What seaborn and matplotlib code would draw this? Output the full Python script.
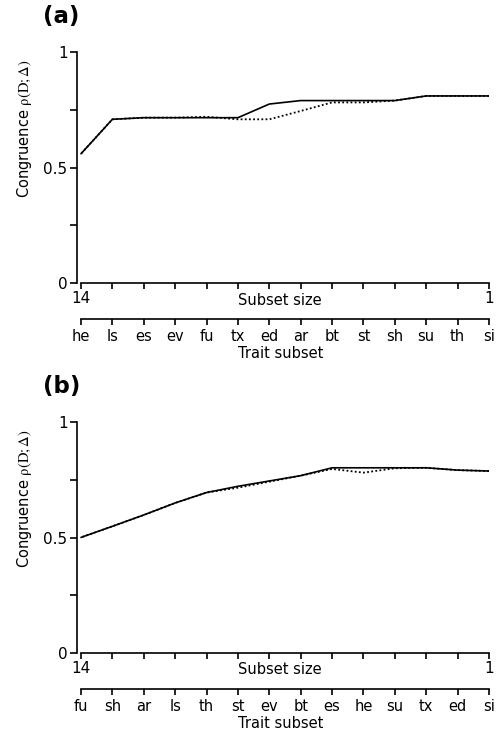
import pandas as pd
import seaborn as sns
import matplotlib.pyplot as plt

# subset size runs from 14 traits down to 1
subset_size = list(range(14, 0, -1))

# panel (a)
traits_a = ["he", "ls", "es", "ev", "fu", "tx", "ed", "ar", "bt", "st", "sh", "su", "th", "si"]
solid_a = [0.56, 0.709, 0.716, 0.716, 0.716, 0.716, 0.775, 0.79, 0.79, 0.79, 0.79, 0.81, 0.81, 0.81]
dotted_a = [0.56, 0.709, 0.716, 0.716, 0.72, 0.709, 0.709, 0.745, 0.782, 0.782, 0.79, 0.81, 0.81, 0.81]

# panel (b)
traits_b = ["fu", "sh", "ar", "ls", "th", "st", "ev", "bt", "es", "he", "su", "tx", "ed", "si"]
solid_b = [0.501, 0.549, 0.598, 0.65, 0.695, 0.722, 0.745, 0.768, 0.802, 0.802, 0.802, 0.802, 0.792, 0.788]
dotted_b = [0.501, 0.549, 0.598, 0.65, 0.695, 0.716, 0.742, 0.768, 0.797, 0.781, 0.80, 0.802, 0.792, 0.788]

yticks = [0, 0.25, 0.5, 0.75, 1]
ytick_labels = ["0", "", "0.5", "", "1"]

sns.set_style("ticks")
plt.rcParams['font.family'] = ['DejaVu Sans']
plt.rcParams['mathtext.fontset'] = 'stix'
plt.rcParams['text.color'] = 'black'
plt.rcParams['axes.labelcolor'] = 'black'

W, H = 501, 731
fig = plt.figure(figsize=(W / 100, H / 100), dpi=100)


def fpos(left, top, right, bottom):
    # pixel box -> figure fraction
    return [left / W, 1 - bottom / H, (right - left) / W, (bottom - top) / H]


def draw_panel(dy, tag, traits, solid, dotted):
    df = pd.DataFrame({'size': subset_size, 'solid': solid, 'dotted': dotted})

    ax = fig.add_axes(fpos(76.5, 52 + dy, 489, 283.3 + dy))
    sns.lineplot(data=df, x='size', y='dotted', ax=ax, color='black',
                 linewidth=1.3, linestyle=(0, (1, 1.3)))
    sns.lineplot(data=df, x='size', y='solid', ax=ax, color='black', linewidth=1.2)

    ax.set_xlim(14.143, 1)
    ax.set_ylim(0, 1)
    ax.set_yticks(yticks)
    ax.set_yticklabels(ytick_labels)
    ax.set_xticks(subset_size)
    ax.set_xticklabels(["14"] + [""] * 12 + ["1"])
    ax.set_xlabel("")
    ax.set_ylabel("")
    ax.spines['top'].set_visible(False)
    ax.spines['right'].set_visible(False)
    ax.spines['bottom'].set_bounds(14, 1)
    for sp in ['left', 'bottom']:
        ax.spines[sp].set_linewidth(1.2)
        ax.spines[sp].set_color('black')
    ax.tick_params(axis='x', direction='out', length=4, width=1.2, labelsize=11, pad=1.5,
                   colors='black')
    ax.tick_params(axis='y', direction='out', length=5, width=1.2, labelsize=11, pad=1.5,
                   colors='black')

    fig.text(280 / W, 1 - (300 + dy) / H, "Subset size", ha='center', va='center', fontsize=10.5)

    # second axis with trait names
    tx = fig.add_axes(fpos(81, 318.3 + dy, 489, 318.8 + dy))
    tx.set_facecolor('none')
    tx.set_xlim(14, 1)
    tx.set_yticks([])
    tx.set_xticks(subset_size)
    tx.set_xticklabels(traits)
    for sp in ['top', 'left', 'right']:
        tx.spines[sp].set_visible(False)
    tx.spines['bottom'].set_linewidth(1.2)
    tx.spines['bottom'].set_color('black')
    tx.tick_params(axis='x', direction='out', length=4, width=1.2, labelsize=10.5, pad=3.5,
                   colors='black')

    fig.text(281 / W, 1 - (353 + dy) / H, "Trait subset", ha='center', va='center', fontsize=10.5)

    fig.text(25 / W, 1 - (129 + dy) / H, r"Congruence $\mathrm{\rho(D;\Delta)}$",
             rotation=90, ha='center', va='center', fontsize=10.5)
    fig.text(61.5 / W, 1 - (17 + dy) / H, tag, ha='center', va='center',
             fontsize=16.5, fontweight='bold', color='black')


draw_panel(0, "(a)", traits_a, solid_a, dotted_a)
draw_panel(370, "(b)", traits_b, solid_b, dotted_b)

fig.savefig("out.png", dpi=100)
